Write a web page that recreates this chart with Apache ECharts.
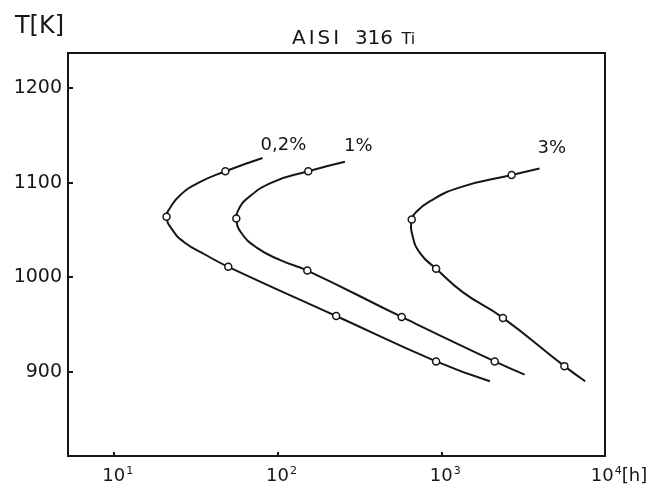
<!DOCTYPE html>
<html>
<head>
<meta charset="utf-8">
<script src="https://cdn.jsdelivr.net/npm/echarts@6/dist/echarts.min.js"></script>
<style>
  html, body { margin: 0; padding: 0; background: #fff; }
  #chart { width: 655px; height: 491px; }
</style>
</head>
<body>
<div id="chart"></div>
<script>
// AISI 316 Ti: time to reach a given creep strain [h] against temperature [K]
const strainLabels = ['0,2%', '1%', '3%'];

// measured points (the circles)
const hours02 = [48, 21, 50, 228, 930];
const temps02 = [1112, 1064, 1011, 959, 911];
const hours1 = [154, 56, 152, 573, 2120];
const temps1 = [1112, 1062, 1007, 958, 911];
const hours3 = [2690, 660, 930, 2380, 5650];
const temps3 = [1108, 1061, 1009, 957, 906];

// fitted curves, upper end -> lower end
const curveHours02 = [81, 48, 33, 25.5, 22.2, 21, 22.8, 26.9, 36, 50, 228, 930, 1980];
const curveTemps02 = [1126, 1112, 1100, 1087, 1074, 1064, 1050, 1037, 1024, 1011, 959, 911, 890];
const curveHours1 = [258, 154, 92, 64, 58, 56, 60, 75, 104, 152, 573, 2120, 3230];
const curveTemps1 = [1122, 1112, 1100, 1082, 1072, 1062, 1047, 1031, 1018, 1007, 958, 911, 897];
const curveHours3 = [3980, 2690, 1300, 845, 695, 660, 667, 746, 930, 1358, 2380, 5650, 7570];
const curveTemps3 = [1115, 1108, 1095, 1080, 1068, 1061, 1044, 1025, 1009, 984, 957, 906, 890];

const xTicks = [10, 100, 1000, 10000];
const yTicks = [900, 1000, 1100, 1200];

const ink = '#161616';
const font = 'DejaVu Sans';
// label position relative to the upper end of each curve, px
const labelOffsets = [[-2, -13], [-1, -15], [-2, -20]];

const chart = echarts.init(document.getElementById('chart'));

const measured = [[hours02, temps02], [hours1, temps1], [hours3, temps3]];
const curves = [[curveHours02, curveTemps02], [curveHours1, curveTemps1], [curveHours3, curveTemps3]];
const series = [];

curves.forEach(([h, t], i) => {
  const pts = h.map((v, j) => [v, t[j]]);
  series.push({
    type: 'custom',
    coordinateSystem: 'cartesian2d',
    data: pts,
    encode: { x: 0, y: 1 },
    silent: true,
    z: 2,
    // one smooth path for the whole curve, drawn with the first item
    renderItem: (params, api) => {
      if (params.dataIndex !== 0) return null;
      const xy = pts.map(p => api.coord(p));
      const top = xy[0];
      return {
        type: 'group',
        children: [
          {
            type: 'polyline',
            shape: { points: xy, smooth: 0.5 },
            style: { stroke: ink, lineWidth: 2, fill: null }
          },
          {
            type: 'text',
            x: top[0] + labelOffsets[i][0],
            y: top[1] + labelOffsets[i][1],
            style: {
              text: strainLabels[i],
              fill: ink,
              font: '18px "' + font + '"',
              align: 'left',
              verticalAlign: 'middle'
            }
          }
        ]
      };
    }
  });
});

measured.forEach(([h, t]) => {
  series.push({
    type: 'scatter',
    data: h.map((v, j) => [v, t[j]]),
    symbol: 'circle',
    symbolSize: 7,
    itemStyle: { color: '#fff', borderColor: ink, borderWidth: 1.5, opacity: 1 },
    z: 3
  });
});

chart.setOption({
  animation: false,
  backgroundColor: '#fff',
  title: {
    text: '{l|A}{l|I}{l|S}{l|I}  316 {t|Ti}',
    left: 287,
    top: 24,
    textStyle: {
      color: ink,
      fontFamily: font,
      fontSize: 20,
      fontWeight: 'normal',
      rich: {
        l: { fontFamily: font, fontSize: 20, color: ink, padding: [0, 3, 0, 0] },
        t: { fontFamily: font, fontSize: 16, color: ink, padding: [2, 0, 0, 2] }
      }
    }
  },
  grid: {
    left: 68, right: 50, top: 53, bottom: 35,
    show: true,
    borderColor: ink,
    borderWidth: 2
  },
  xAxis: {
    type: 'log',
    logBase: 10,
    min: 5.25,
    max: 10000,
    axisLine: { show: false },
    splitLine: { show: false },
    minorTick: { show: false },
    axisTick: {
      show: true,
      inside: true,
      length: 4,
      lineStyle: { color: ink, width: 2 },
      customValues: xTicks.slice(0, 3)
    },
    axisLabel: {
      customValues: xTicks,
      margin: 10,
      color: ink,
      fontFamily: font,
      fontSize: 18,
      formatter: v => {
        const e = Math.round(Math.log10(v));
        return e === 4 ? '{pad|}10{sup|' + e + '}[h]' : '{pre|}10{sup|' + e + '}';
      },
      rich: {
        sup: { fontFamily: font, fontSize: 11, color: ink, padding: [0, 0, 10, 1] },
        pre: { width: 8 },
        pad: { width: 28 }
      }
    }
  },
  yAxis: {
    type: 'value',
    min: 811,
    max: 1237,
    name: 'T[K]',
    nameLocation: 'end',
    nameGap: 14,
    nameTextStyle: { color: ink, fontFamily: font, fontSize: 24, align: 'right', padding: [0, 4, 0, 0] },
    axisLine: { show: false },
    splitLine: { show: false },
    axisTick: {
      show: true,
      inside: true,
      length: 5,
      lineStyle: { color: ink, width: 2 },
      customValues: yTicks
    },
    axisLabel: {
      customValues: yTicks,
      margin: 6,
      color: ink,
      fontFamily: font,
      fontSize: 19,
      formatter: v => String(v)
    }
  },
  series: series
});
</script>
</body>
</html>
